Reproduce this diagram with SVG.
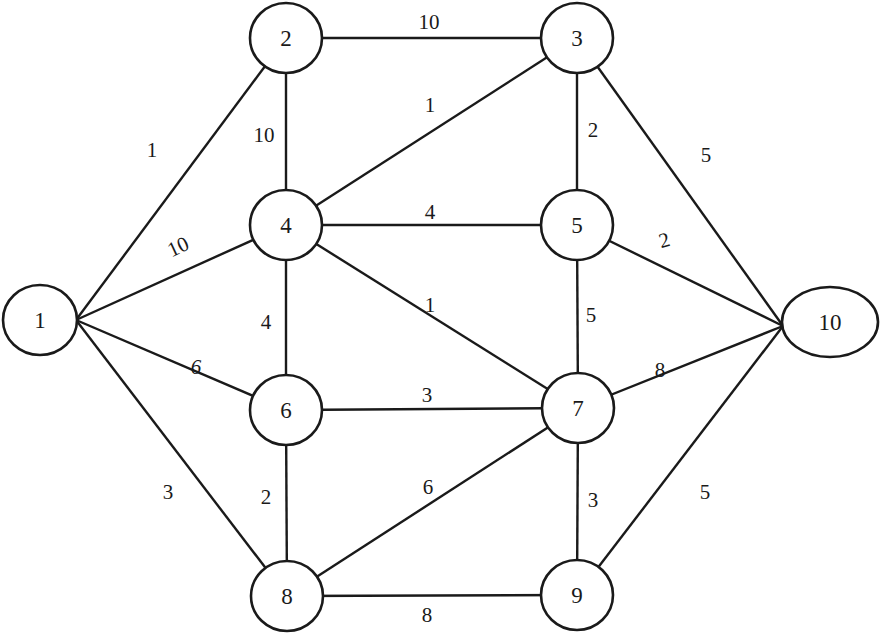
<svg xmlns="http://www.w3.org/2000/svg" width="882" height="633" viewBox="0 0 882 633">
<style>
.e{stroke:#1a1a1a;stroke-width:2.4;fill:none}
.n{fill:#fff;stroke:#1a1a1a;stroke-width:2.6}
text{font-family:'Liberation Serif',serif;fill:#1a1a1a;text-anchor:middle}
.t{font-size:23px}
.w{font-size:21px}
</style>
<rect width="882" height="633" fill="#fff"/>
<g id="connectors">
<line class="e" x1="76" y1="320" x2="286" y2="38"/>
<line class="e" x1="76" y1="320" x2="286" y2="225"/>
<line class="e" x1="76" y1="320" x2="286" y2="410"/>
<line class="e" x1="76" y1="320" x2="287" y2="596"/>
<line class="e" x1="286" y1="38" x2="577" y2="38"/>
<line class="e" x1="286" y1="38" x2="286" y2="225"/>
<line class="e" x1="577" y1="38" x2="286" y2="225"/>
<line class="e" x1="577" y1="38" x2="577" y2="225"/>
<line class="e" x1="577" y1="38" x2="783" y2="326"/>
<line class="e" x1="286" y1="225" x2="577" y2="225"/>
<line class="e" x1="286" y1="225" x2="578" y2="408"/>
<line class="e" x1="286" y1="225" x2="286" y2="410"/>
<line class="e" x1="577" y1="225" x2="783" y2="326"/>
<line class="e" x1="577" y1="225" x2="578" y2="408"/>
<line class="e" x1="286" y1="410" x2="578" y2="408"/>
<line class="e" x1="286" y1="410" x2="287" y2="596"/>
<line class="e" x1="578" y1="408" x2="783" y2="326"/>
<line class="e" x1="287" y1="596" x2="578" y2="408"/>
<line class="e" x1="578" y1="408" x2="577" y2="595"/>
<line class="e" x1="287" y1="596" x2="577" y2="595"/>
<line class="e" x1="577" y1="595" x2="783" y2="326"/>
</g>
<g id="edge-labels">
<text class="w" x="429" y="29">10</text>
<text class="w" x="152" y="157">1</text>
<text class="w" x="264" y="142">10</text>
<text class="w" x="430" y="112">1</text>
<text class="w" x="593" y="137">2</text>
<text class="w" x="706" y="162">5</text>
<text class="w" transform="translate(181,253) rotate(-25)">10</text>
<text class="w" x="430" y="219">4</text>
<text class="w" transform="translate(666,247) rotate(-15)">2</text>
<text class="w" x="430" y="312">1</text>
<text class="w" x="591" y="322">5</text>
<text class="w" x="266" y="329">4</text>
<text class="w" x="196" y="374" font-style="italic">6</text>
<text class="w" x="427" y="402">3</text>
<text class="w" x="660" y="377">8</text>
<text class="w" x="168" y="499">3</text>
<text class="w" x="266" y="504">2</text>
<text class="w" x="428" y="494">6</text>
<text class="w" x="593" y="507">3</text>
<text class="w" x="705" y="499">5</text>
<text class="w" x="427" y="622">8</text>
</g>
<g id="node1"><ellipse class="n" cx="40" cy="320" rx="37" ry="35"/><text class="t" x="40" y="328">1</text></g>
<g id="node2"><ellipse class="n" cx="286" cy="38" rx="36" ry="35"/><text class="t" x="286" y="46">2</text></g>
<g id="node3"><ellipse class="n" cx="577" cy="38" rx="36" ry="35"/><text class="t" x="577" y="46">3</text></g>
<g id="node4"><ellipse class="n" cx="286" cy="225" rx="36" ry="35"/><text class="t" x="286" y="233">4</text></g>
<g id="node5"><ellipse class="n" cx="577" cy="225" rx="36" ry="35"/><text class="t" x="577" y="233">5</text></g>
<g id="node6"><ellipse class="n" cx="286" cy="410" rx="36" ry="35"/><text class="t" x="286" y="418">6</text></g>
<g id="node7"><ellipse class="n" cx="578" cy="408" rx="36" ry="35"/><text class="t" x="578" y="416">7</text></g>
<g id="node8"><ellipse class="n" cx="287" cy="596" rx="36" ry="35"/><text class="t" x="287" y="604">8</text></g>
<g id="node9"><ellipse class="n" cx="577" cy="595" rx="36" ry="35"/><text class="t" x="577" y="603">9</text></g>
<g id="node10"><ellipse class="n" cx="830" cy="322" rx="48" ry="35"/><text class="t" x="830" y="330">10</text></g>
</svg>
